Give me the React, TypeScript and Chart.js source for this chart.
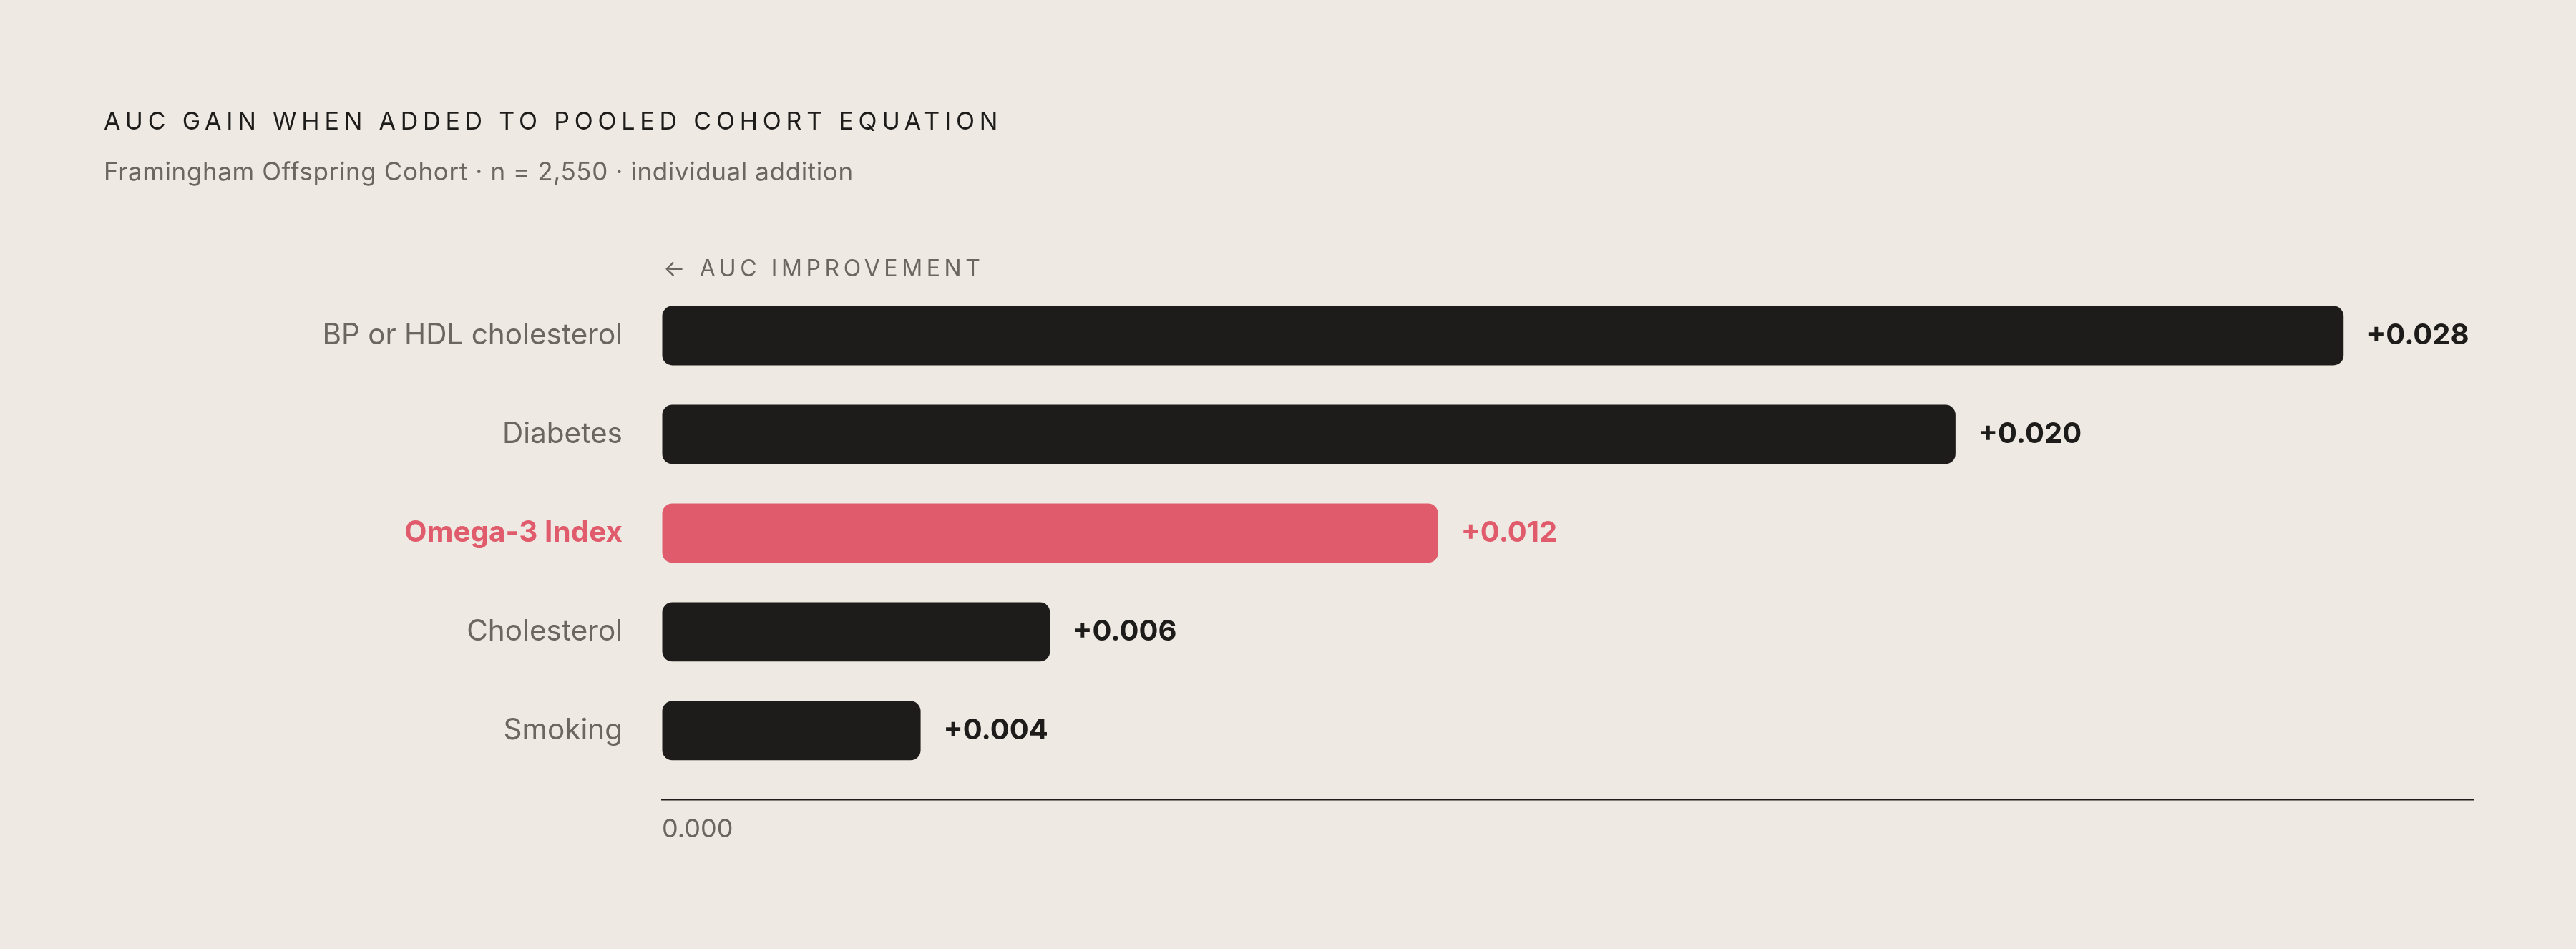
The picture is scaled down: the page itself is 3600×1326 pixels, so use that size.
import { useEffect, useRef } from "react"
import { Chart, registerables, type Plugin } from "chart.js"

Chart.register(...registerables)

// data
const categories = ["BP or HDL cholesterol", "Diabetes", "Omega-3 Index", "Cholesterol", "Smoking"]
const barValues = [0.026, 0.02, 0.012, 0.006, 0.004]
const valueLabels = ["+0.028", "+0.020", "+0.012", "+0.006", "+0.004"]
const highlightIndex = 2
const xTickValues = [0]
const xMax = 0.028

const FONT = "Inter, 'DejaVu Sans', sans-serif"
const BG = "#EEEAE3"
const INK = "#1E1C1A"
const MUTED = "#6B6660"
const PINK = "#E05C6C"

const valueLabelPlugin: Plugin<"bar"> = {
  id: "valueLabels",
  afterDatasetsDraw(chart) {
    const { ctx } = chart
    const meta = chart.getDatasetMeta(0)
    ctx.save()
    ctx.font = `700 40px ${FONT}`
    ctx.textBaseline = "middle"
    ctx.textAlign = "left"
    meta.data.forEach((bar, i) => {
      const { x, y } = bar.getProps(["x", "y"], true)
      ctx.fillStyle = i === highlightIndex ? PINK : INK
      ctx.fillText(valueLabels[i], x + 32, y)
    })
    ctx.restore()
  },
}

function AucChart() {
  const canvasRef = useRef<HTMLCanvasElement>(null)
  const chartRef = useRef<Chart | null>(null)

  useEffect(() => {
    if (!canvasRef.current) return
    if (chartRef.current) chartRef.current.destroy()

    chartRef.current = new Chart(canvasRef.current, {
      type: "bar",
      data: {
        datasets: [
          {
            data: barValues.map((v, i) => ({ x: v, y: i })),
            backgroundColor: barValues.map((_, i) => (i === highlightIndex ? PINK : INK)),
            borderRadius: 14,
            borderSkipped: false,
            barPercentage: 0.6,
            categoryPercentage: 1,
          },
        ],
      },
      options: {
        indexAxis: "y",
        animation: false,
        responsive: true,
        maintainAspectRatio: false,
        layout: { padding: { top: 400, right: 144, bottom: 129, left: 0 } },
        plugins: {
          legend: { display: false },
          tooltip: { enabled: false },
        },
        scales: {
          x: {
            type: "linear",
            min: 0,
            max: xMax,
            bounds: "data",
            afterBuildTicks: (scale) => {
              scale.ticks = xTickValues.map((v) => ({ value: v }))
            },
            afterFit: (scale) => {
              scale.height = 80
            },
            grid: { display: true, drawOnChartArea: false, drawTicks: false },
            border: { display: true, color: INK, width: 2.5 },
            ticks: {
              color: MUTED,
              font: { family: FONT, size: 36 },
              padding: 21,
              align: "start",
              callback: (v) => Number(v).toFixed(3),
            },
          },
          y: {
            type: "linear",
            reverse: true,
            offset: false,
            min: -0.5,
            max: 4.696,
            bounds: "data",
            afterBuildTicks: (scale) => {
              scale.ticks = categories.map((_, i) => ({ value: i }))
            },
            afterFit: (scale) => {
              scale.width = 925
            },
            grid: { display: false, drawTicks: false, offset: false },
            border: { display: false },
            ticks: {
              padding: 55,
              autoSkip: false,
              color: (c) => (c.index === highlightIndex ? PINK : MUTED),
              font: (c) => ({ family: FONT, size: 40.5, weight: c.index === highlightIndex ? 700 : 400 }),
              callback: (_v, i) => categories[i] ?? "",
            },
          },
        },
      },
      plugins: [valueLabelPlugin],
    })

    return () => {
      if (chartRef.current) {
        chartRef.current.destroy()
        chartRef.current = null
      }
    }
  }, [])

  return (
    <div style={{ position: "absolute", left: 0, top: 0, width: 3600, height: 1326 }}>
      <canvas ref={canvasRef} />
    </div>
  )
}

export default function App() {
  return (
    <div style={{ position: "fixed", inset: 0, background: BG, overflow: "hidden", fontFamily: FONT }}>
      <AucChart />
      <div
        style={{
          position: "absolute",
          left: 145,
          top: 152,
          fontSize: 34,
          lineHeight: "34px",
          letterSpacing: "0.2em",
          color: INK,
          whiteSpace: "nowrap",
        }}
      >
        AUC GAIN WHEN ADDED TO POOLED COHORT EQUATION
      </div>
      <div
        style={{
          position: "absolute",
          left: 145,
          top: 222,
          fontSize: 35,
          lineHeight: "35px",
          letterSpacing: "0.6px",
          color: MUTED,
          whiteSpace: "nowrap",
        }}
      >
        Framingham Offspring Cohort · n = 2,550 · individual addition
      </div>
      <div
        style={{
          position: "absolute",
          left: 927,
          top: 359,
          fontSize: 32,
          lineHeight: "32px",
          letterSpacing: "0.175em",
          color: MUTED,
          whiteSpace: "nowrap",
        }}
      >
        ← AUC IMPROVEMENT
      </div>
    </div>
  )
}
